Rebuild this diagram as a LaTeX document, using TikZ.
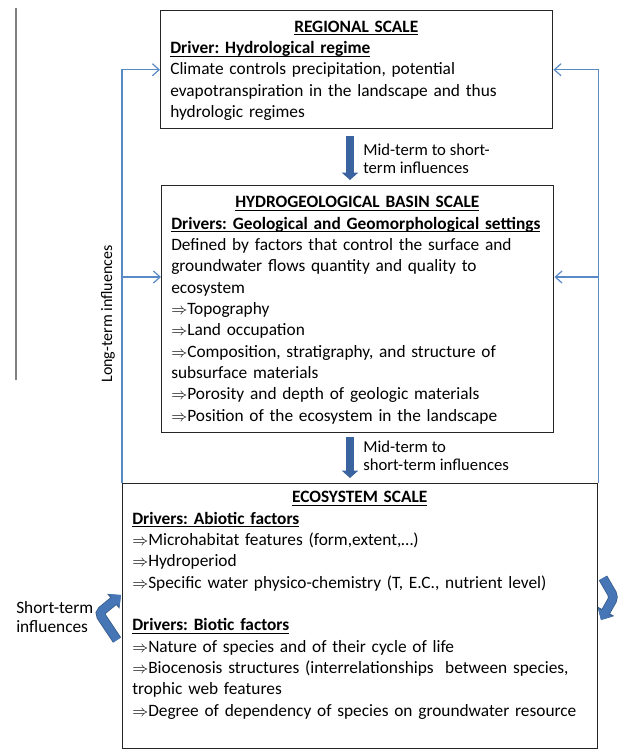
\documentclass[tikz,border=0pt]{standalone}
\usepackage{fontspec}
\setmainfont{Carlito}
\usetikzlibrary{positioning,arrows.meta}

\definecolor{linkblue}{HTML}{5A8AC6}
\definecolor{flowblue}{HTML}{3A64A0}
\definecolor{bendblue}{HTML}{4676B6}
\definecolor{bendedge}{HTML}{385D8A}
\definecolor{boxgray}{HTML}{262626}

\newsavebox{\headbox}
\newcommand{\headline}[1]{\sbox{\headbox}{\textbf{#1}}\usebox{\headbox}\llap{\rule[-2.4pt]{\wd\headbox}{0.8pt}}}
\newcommand{\then}{$\Rightarrow$}
\frenchspacing

\begin{document}
\begin{tikzpicture}[x=0.75pt,y=-0.75pt,
  scalebox/.style={draw=boxgray, line width=1.1pt, anchor=north west, inner sep=0pt},
  boxtext/.style={anchor=north west, align=left, inner sep=0pt, font=\fontsize{13}{16}\selectfont},
  link/.style={draw=linkblue, line width=0.9pt, -{Straight Barb[length=5pt,width=9pt]}},
  flow/.style={draw=flowblue, line width=5.5pt, -{Triangle[width=12pt,length=5.5pt]}},
  bentarrow/.style={draw=bendblue, line width=6pt, rounded corners=3pt,
    preaction={draw=bendedge, line width=7.2pt, -{Triangle[width=14pt,length=7.5pt]}},
    -{Triangle[width=12pt,length=6.5pt]}},
  note/.style={align=left, inner sep=0pt, font=\fontsize{12.5}{13.5}\selectfont}]

	\useasboundingbox (0,0) rectangle (621,750);

	% Gray rule on the left
	\draw[gray, line width=1.2pt] (16,8) -- (16,380);

	% Scale boxes
	\node[scalebox, minimum width=294pt, minimum height=88.5pt] (regional) at (160,10) {};
	\node[scalebox, minimum width=294pt, minimum height=185.25pt] (basin) at (161,185) {};
	\node[scalebox, minimum width=356.25pt, minimum height=198.75pt] (eco) at (122,483) {};

	% Box texts
	\node[boxtext, text width=300pt] (regionaltxt) at ([shift={(10,7)}]regional.north west) {%
		\makebox[279pt]{\strut\headline{REGIONAL SCALE}}\\
		\headline{Driver: Hydrological regime}\\
		Climate controls precipitation, potential\\
		evapotranspiration in the landscape and thus\\
		hydrologic regimes};
	\node[boxtext, text width=300pt] (basintxt) at ([shift={(10,7.5)}]basin.north west) {%
		\makebox[279pt]{\strut\headline{HYDROGEOLOGICAL BASIN SCALE}}\\
		\headline{Drivers: Geological and Geomorphological settings}\\
		Defined by factors that control the surface and\\
		groundwater flows quantity and quality to\\
		ecosystem\\
		\then Topography\\
		\then Land occupation\\
		\then Composition, stratigraphy, and structure of\\
		subsurface materials\\
		\then Porosity and depth of geologic materials\\
		\then Position of the ecosystem in the landscape};
	\node[boxtext, text width=360pt] (ecotxt) at ([shift={(10,4.5)}]eco.north west) {%
		\makebox[341.25pt]{\strut\headline{ECOSYSTEM SCALE}}\\
		\headline{Drivers: Abiotic factors}\\
		\then Microhabitat features (form,extent,…)\\
		\then Hydroperiod\\
		\then Specific water physico-chemistry (T, E.C., nutrient level)\\[16pt]
		\headline{Drivers: Biotic factors}\\
		\then Nature of species and of their cycle of life\\
		\then Biocenosis structures (interrelationships\ \ between species,\\
		trophic web features\\
		\then Degree of dependency of species on groundwater resource};

	% Long-term feedback lines
	\coordinate (leftin) at ([yshift=-69pt]basin.north west);
	\coordinate (rightin) at ([yshift=-69pt]basin.north east);
	\draw[link] (eco.north west) -- (eco.north west |- regional.west) -- (regional.west);
	\draw[link] (eco.north west |- leftin) -- (leftin);
	\draw[link] (eco.north east) -- (eco.north east |- regional.east) -- (regional.east);
	\draw[link] (eco.north east |- rightin) -- (rightin);
	\node[note, rotate=90, font=\fontsize{12}{13.5}\selectfont] (longlbl) at (108,314) {Long-term influences};

	% Mid-term flows
	\coordinate (flowx) at (350,0);
	\draw[flow] ([yshift=-5.25pt]regional.south -| flowx) -- ([yshift=3.75pt]basin.north -| flowx);
	\draw[flow] ([yshift=-3pt]basin.south -| flowx) -- ([yshift=3.75pt]eco.north -| flowx);
	\node[note, anchor=north west] (flow1lbl) at (363,143) {\strut Mid-term to short-\\term influences};
	\node[note, anchor=north west] (flow2lbl) at (363,440) {\strut Mid-term to\\short-term influences};

	% Short-term bent arrows
	\draw[bentarrow] (117,640) -- (99,613) -- (121,595);
	\draw[bentarrow] (603,578) -- (614,597) -- (601,620);
	\node[note, anchor=north west, font=\fontsize{13}{14.25}\selectfont] (shortlbl) at (16,600) {\strut Short-term\\influences};

\end{tikzpicture}
\end{document}
